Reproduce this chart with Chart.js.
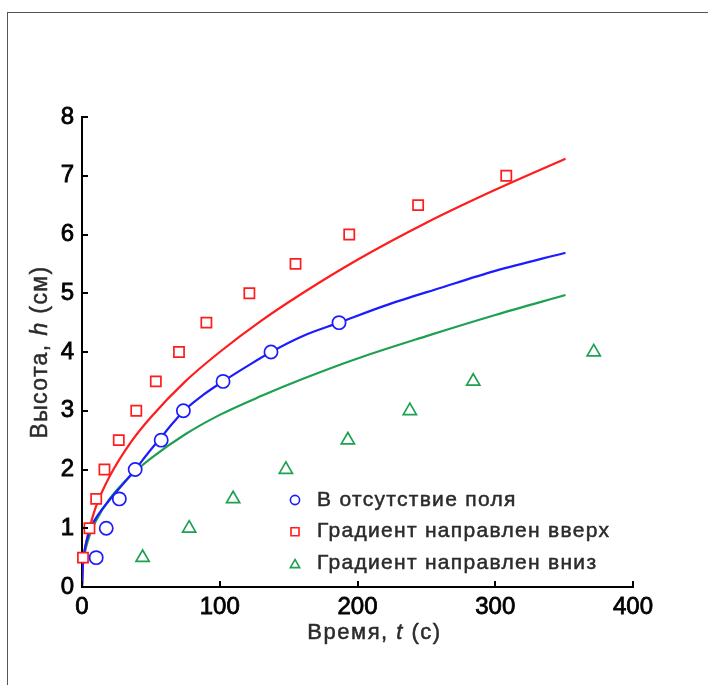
<!DOCTYPE html>
<html><head><meta charset="utf-8">
<script src="https://cdn.jsdelivr.net/npm/chart.js@4.4.0/dist/chart.umd.min.js"></script>
<style>
html,body{margin:0;padding:0;background:#fff;}
#wrap{position:relative;width:708px;height:685px;overflow:hidden;}
#frame{position:absolute;left:7px;top:12px;width:760px;height:760px;border-top:1px solid #555;border-left:1px solid #555;}
canvas{position:absolute;left:0;top:0;}
</style></head><body>
<div id="wrap"><div id="frame"></div><canvas id="c" width="708" height="685"></canvas></div>
<script>
// ---- data ----
const seriesLabels = ['В отсутствие поля', 'Градиент направлен вверх', 'Градиент направлен вниз'];
const xTitle = ['Время, ', 't', ' (с)'];
const yTitle = ['Высота, ', 'h', ' (см)'];

// measured points
const noFieldT = [10.3, 17.6, 27.1, 38.6, 57.5, 73.6, 102.4, 137.2, 186.6];
const noFieldH = [0.5, 1, 1.5, 2, 2.5, 3, 3.5, 4, 4.5];
const upT = [0.7, 5.4, 10.3, 16.3, 26.7, 39.4, 53.6, 70.4, 90.3, 121.5, 155, 194, 244, 308];
const upH = [0.5, 1, 1.5, 2, 2.5, 3, 3.5, 4, 4.5, 5, 5.5, 6, 6.5, 7];
const downT = [44, 77.8, 109.7, 148, 193, 238, 284, 371.5];
const downH = [0.5, 1, 1.5, 2, 2.5, 3, 3.5, 4];

// fitted curves
const noFieldCurveT = [0, 0.5, 1.5, 3, 7, 13, 20, 29, 38.7, 48, 57.5, 66, 74, 88, 102.4, 120, 137.2, 160, 186.6, 220, 260, 300, 351];
const noFieldCurveH = [0, 0.36, 0.57, 0.75, 1.04, 1.27, 1.48, 1.73, 2.0, 2.28, 2.55, 2.79, 3.0, 3.27, 3.5, 3.76, 4.0, 4.27, 4.5, 4.79, 5.09, 5.38, 5.69];
const upCurveT = [0, 0.5, 1.5, 3, 6, 10, 20, 35, 50, 75, 100, 130, 160, 200, 250, 300, 351];
const upCurveH = [0, 0.32, 0.55, 0.76, 1.05, 1.36, 1.88, 2.45, 2.89, 3.5, 4.0, 4.53, 5.0, 5.57, 6.2, 6.76, 7.29];
const downCurveT = [0, 0.5, 1.5, 3, 6, 10, 20, 35, 50, 75, 100, 130, 160, 200, 250, 300, 351];
const downCurveH = [0, 0.32, 0.51, 0.68, 0.91, 1.12, 1.5, 1.89, 2.19, 2.6, 2.93, 3.25, 3.54, 3.89, 4.27, 4.63, 4.97];

const xTicks = [0, 100, 200, 300, 400];
const yTicks = [0, 1, 2, 3, 4, 5, 6, 7, 8];

const BLUE = 'rgb(28,28,255)';
const RED = 'rgb(255,28,28)';
const GREEN = 'rgb(30,160,82)';
const FONT = "'Liberation Sans', Arial, sans-serif";
const TEXT = '#2b2b2b';

const pts = (t, h) => t.map((v, i) => ({x: v, y: h[i]}));

function markerDS(label, t, h, color, style, r) {
  return {label, data: pts(t, h), showLine: false, borderColor: color, backgroundColor: '#fff',
    pointStyle: style, pointRadius: r, pointHoverRadius: r, pointBorderWidth: 1.7, clip: false, inLegend: true};
}
function curveDS(t, h, color) {
  return {data: pts(t, h), showLine: true, borderColor: color, borderWidth: 2.2, pointRadius: 0,
    pointHoverRadius: 0, cubicInterpolationMode: 'monotone', fill: false, inLegend: false};
}

function drawRich(ctx, parts, cx, cy, size, spacing) {
  const fonts = parts.map((p, i) => (i === 1 ? 'italic ' : '') + size + 'px ' + FONT);
  ctx.letterSpacing = spacing + 'px';
  let w = 0;
  const ws = parts.map((p, i) => { ctx.font = fonts[i]; const m = ctx.measureText(p).width; w += m; return m; });
  let x = cx - w / 2;
  ctx.textAlign = 'left';
  ctx.textBaseline = 'middle';
  ctx.lineWidth = 0.5;
  ctx.strokeStyle = TEXT;
  parts.forEach((p, i) => { ctx.font = fonts[i]; ctx.fillText(p, x, cy); ctx.strokeText(p, x, cy); x += ws[i]; });
  ctx.letterSpacing = '0px';
}

const decor = {
  id: 'decor',
  afterDraw(chart) {
    const {ctx, chartArea: a, scales: {x, y}} = chart;
    ctx.save();
    // inward ticks
    ctx.strokeStyle = '#000';
    ctx.lineWidth = 2;
    x.ticks.forEach(t => {
      const px = Math.round(x.getPixelForValue(t.value));
      ctx.beginPath(); ctx.moveTo(px, a.bottom + 1); ctx.lineTo(px, a.bottom - 6); ctx.stroke();
    });
    y.ticks.forEach(t => {
      const py = Math.round(y.getPixelForValue(t.value));
      ctx.beginPath(); ctx.moveTo(a.left - 1, py); ctx.lineTo(a.left + 6, py); ctx.stroke();
    });
    // axis titles
    ctx.fillStyle = TEXT;
    drawRich(ctx, xTitle, (a.left + a.right) / 2 + 17, a.bottom + 46, 22, 1.5);
    ctx.save();
    ctx.translate(41, (a.top + a.bottom) / 2);
    ctx.rotate(-Math.PI / 2);
    ctx.fillStyle = TEXT;
    drawRich(ctx, yTitle, 0, 0, 23, 1.4);
    ctx.restore();
    // legend
    const items = chart.data.datasets.filter(d => d.inLegend);
    items.forEach((d, i) => {
      const mx = a.left + 213, my = a.top + 383 + i * 31.7;
      ctx.strokeStyle = d.borderColor;
      ctx.fillStyle = '#fff';
      ctx.lineWidth = 1.6;
      ctx.beginPath();
      if (d.pointStyle === 'circle') {
        ctx.arc(mx, my, 4.6, 0, Math.PI * 2);
      } else if (d.pointStyle === 'rect') {
        ctx.rect(mx - 4, my - 4, 8, 8);
      } else {
        const r = 5.4;
        for (let k = 0; k < 3; k++) {
          const ang = k * 2 * Math.PI / 3;
          const px = mx + Math.sin(ang) * r, py = my + 1.5 - Math.cos(ang) * r;
          if (k === 0) ctx.moveTo(px, py); else ctx.lineTo(px, py);
        }
        ctx.closePath();
      }
      ctx.fill(); ctx.stroke();
      ctx.fillStyle = TEXT;
      ctx.strokeStyle = TEXT;
      ctx.lineWidth = 0.5;
      ctx.font = '21px ' + FONT;
      ctx.letterSpacing = '1.3px';
      ctx.textAlign = 'left';
      ctx.textBaseline = 'middle';
      ctx.fillText(d.label, a.left + 235, my);
      ctx.strokeText(d.label, a.left + 235, my);
      ctx.letterSpacing = '0px';
    });
    ctx.restore();
  }
};

new Chart(document.getElementById('c'), {
  type: 'scatter',
  data: {
    datasets: [
      markerDS(seriesLabels[0], noFieldT, noFieldH, BLUE, 'circle', 6.6),
      markerDS(seriesLabels[1], upT, upH, RED, 'rect', 7.2),
      markerDS(seriesLabels[2], downT, downH, GREEN, 'triangle', 7.6),
      curveDS(noFieldCurveT, noFieldCurveH, BLUE),
      curveDS(upCurveT, upCurveH, RED),
      curveDS(downCurveT, downCurveH, GREEN)
    ]
  },
  options: {
    responsive: false,
    animation: false,
    devicePixelRatio: 1,
    layout: {padding: {left: 0, top: 117, right: 75, bottom: 0}},
    plugins: {legend: {display: false}, tooltip: {enabled: false}},
    scales: {
      x: {
        type: 'linear', min: 0, max: 400,
        afterBuildTicks: s => { s.ticks = xTicks.map(v => ({value: v})); },
        afterFit: s => { s.height = 98; },
        grid: {display: false, drawTicks: false},
        border: {display: true, color: '#000', width: 2},
        ticks: {color: '#000', padding: 6, textStrokeColor: '#000', textStrokeWidth: 0.8, font: {family: FONT, size: 24}}
      },
      y: {
        type: 'linear', min: 0, max: 8,
        afterBuildTicks: s => { s.ticks = yTicks.map(v => ({value: v})); },
        afterFit: s => { s.width = 82; },
        grid: {display: false, drawTicks: false},
        border: {display: true, color: '#000', width: 2},
        ticks: {color: '#000', padding: 8, textStrokeColor: '#000', textStrokeWidth: 0.8, font: {family: FONT, size: 24}}
      }
    }
  },
  plugins: [decor]
});
</script>
</body></html>
